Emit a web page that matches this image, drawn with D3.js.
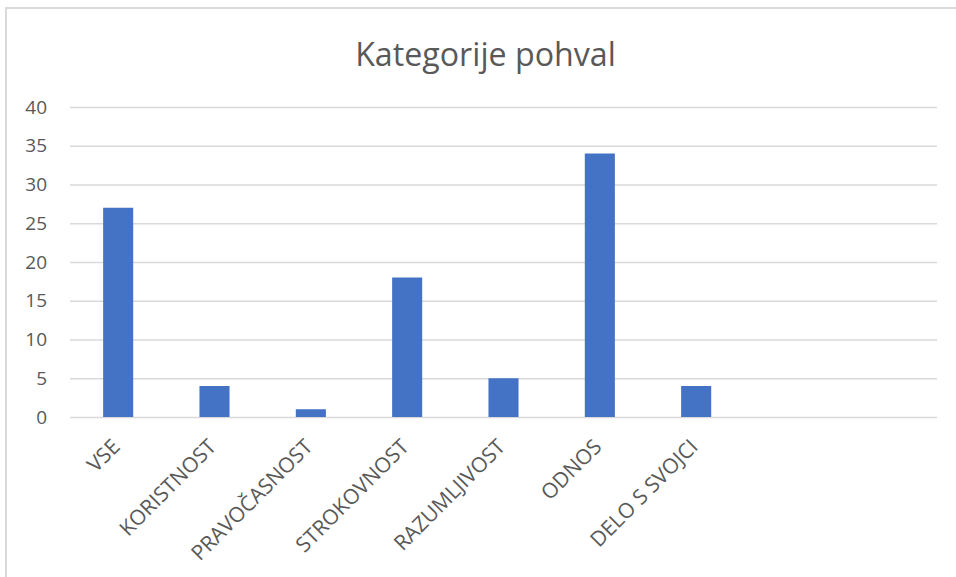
<!DOCTYPE html>
<html>
<head>
<meta charset="utf-8">
<script src="https://cdn.jsdelivr.net/npm/d3@7"></script>
<style>
  body { margin: 0; background: #fff; }
  text { font-family: "Open Sans", "Noto Sans", sans-serif; fill: #595959; }
</style>
</head>
<body>
<svg id="chart" width="956" height="577"></svg>
<script>
// --- Data ------------------------------------------
const title = "Kategorije pohval";
const categories = ["VSE", "KORISTNOST", "PRAVOČASNOST", "STROKOVNOST", "RAZUMLJIVOST", "ODNOS", "DELO S SVOJCI"];
const values = [27, 4, 1, 18, 5, 34, 4];
// the source sheet had two more (empty) rows in the range
const emptySlots = 2;
const yTicks = [0, 5, 10, 15, 20, 25, 30, 35, 40];

var margin = {top: 107, right: 19, bottom: 160, left: 70};
const W = 956, H = 577;

const svg = d3.select("#chart");

svg.append("rect")
  .attr("width", W)
  .attr("height", H)
  .attr("fill", "#fff");

// chart frame (only left and top edges are visible in the crop)
svg.append("path")
  .attr("d", "M6,577V8H956")
  .attr("fill", "none")
  .attr("stroke", "#d9d9d9")
  .attr("stroke-width", 2);

const slots = d3.range(categories.length + emptySlots);

const x = d3.scaleBand()
  .domain(slots)
  .range([margin.left, W - margin.right])
  .paddingInner(0.688)
  .paddingOuter(0.344);

const y = d3.scaleLinear()
  .domain([0, 40])
  .range([H - margin.bottom, margin.top]);

// --- Grid + y labels -------------------------------
const yAxis = d3.axisLeft(y)
  .tickValues(yTicks)
  .tickSize(-(W - margin.right - margin.left))
  .tickPadding(23);

const gy = svg.append("g")
  .attr("transform", "translate(" + margin.left + ",0)")
  .call(yAxis);

gy.select(".domain").remove();
gy.selectAll(".tick line")
  .attr("stroke", "#d9d9d9")
  .attr("stroke-width", 1.5);
gy.selectAll(".tick text")
  .style("font-size", "19px")
  .attr("fill", "#595959");

// --- Bars -----------------------------------------
svg.append("g")
  .selectAll("rect")
  .data(values)
  .enter()
  .append("rect")
  .attr("x", (d, i) => x(i))
  .attr("width", x.bandwidth())
  .attr("y", d => y(d))
  .attr("height", d => y(0) - y(d))
  .attr("fill", "#4472c4");

// --- Category labels, rotated ---------------------
svg.append("g")
  .selectAll("text")
  .data(categories)
  .enter()
  .append("text")
  .attr("transform", (d, i) =>
    "translate(" + (x(i) + x.bandwidth() / 2 + 3) + "," + (y(0) + 31) + ")rotate(-45)")
  .attr("text-anchor", "end")
  .style("font-size", "21px")
  .text(d => d);

// --- Title ----------------------------------------
const t = svg.append("text")
  .attr("x", 485.5)
  .attr("y", 66)
  .attr("text-anchor", "middle")
  .style("font-size", "32px")
  .text(title);

// squeeze the title to the width it has in the picture
const tw = t.node().getComputedTextLength();
t.style("font-size", (32 * 261 / tw).toFixed(1) + "px");
</script>
</body>
</html>
